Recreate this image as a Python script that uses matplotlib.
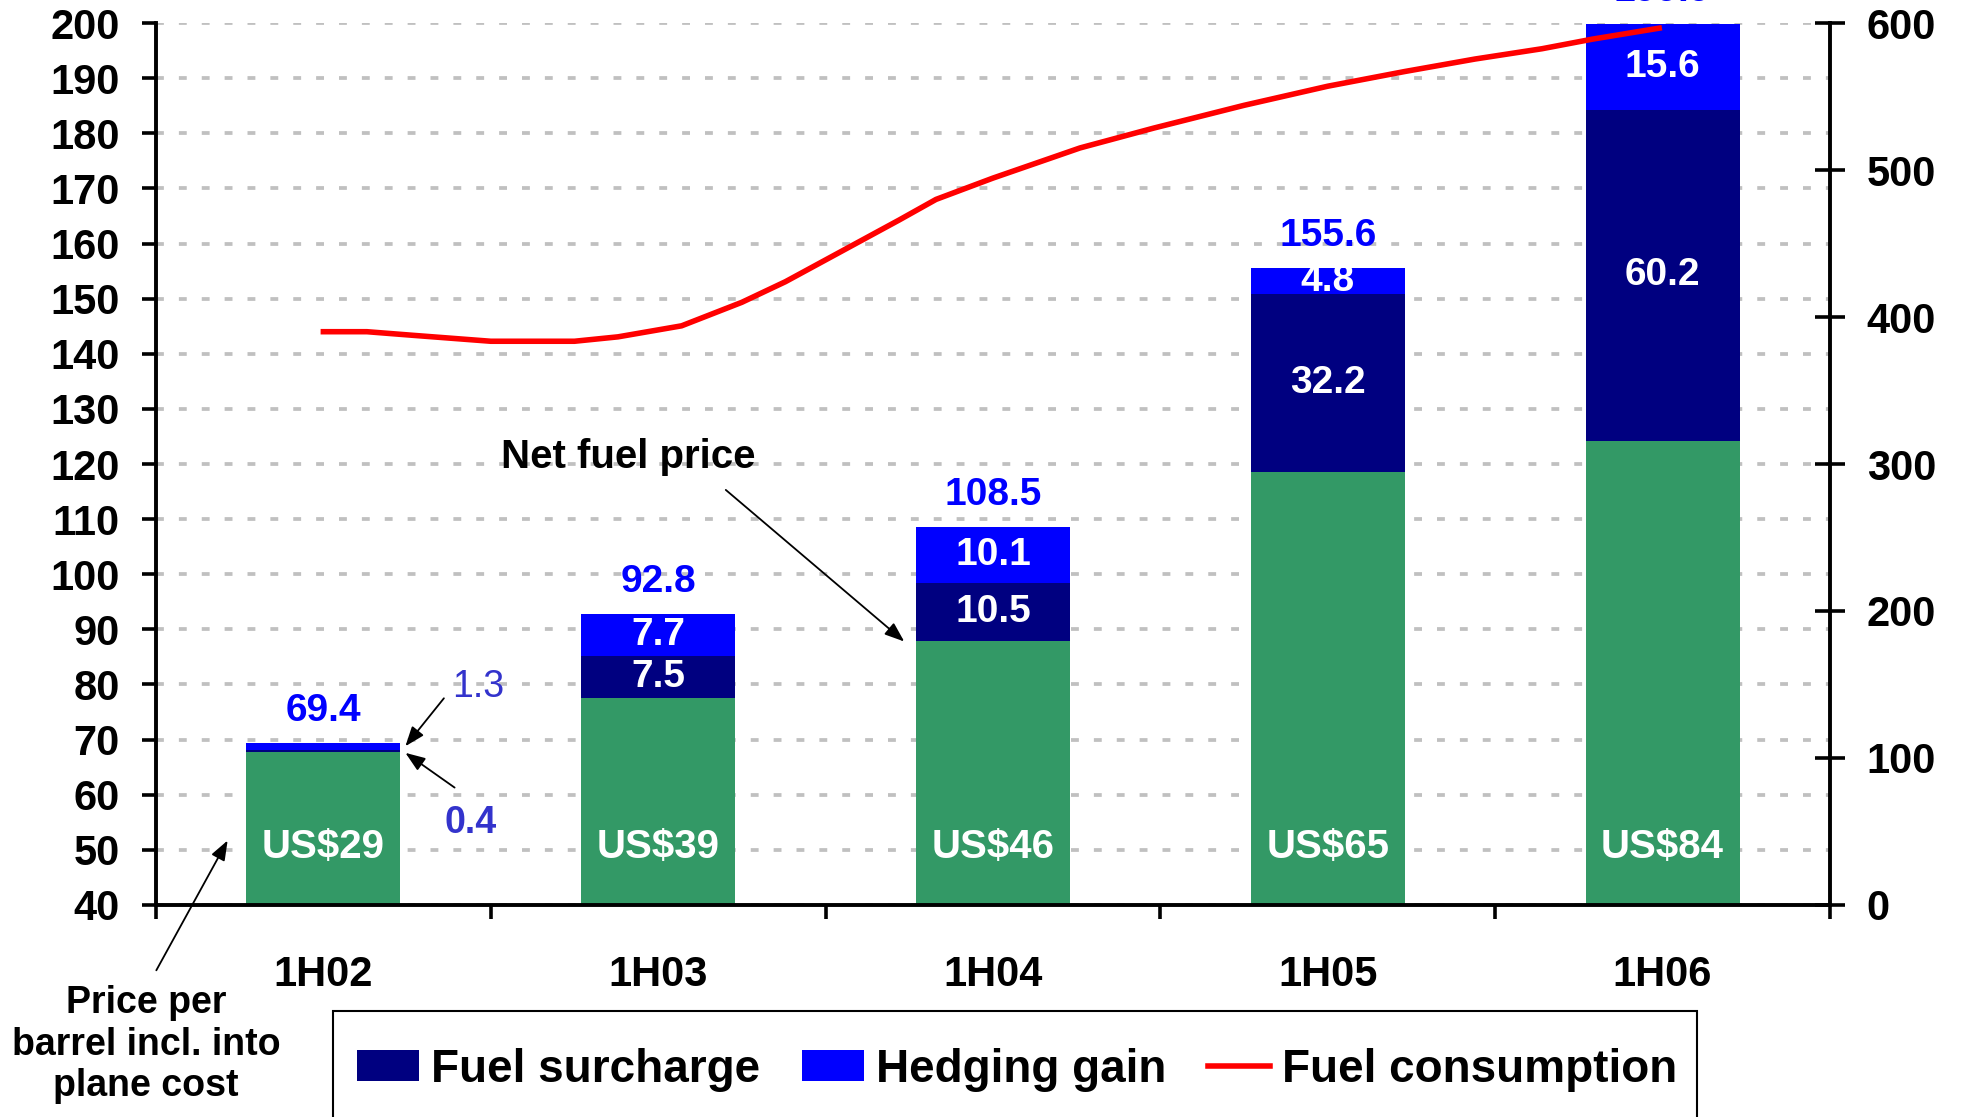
import matplotlib
matplotlib.use('Agg')
import matplotlib.pyplot as plt
from matplotlib.patches import Rectangle
import numpy as np

plt.rcParams['font.family'] = ['Liberation Sans', 'DejaVu Sans']
plt.rcParams['font.weight'] = 'bold'

# data
periods = ['1H02', '1H03', '1H04', '1H05', '1H06']
totals = [69.4, 92.8, 108.5, 155.6, 199.9]
surcharge = [0.4, 7.5, 10.5, 32.2, 60.2]
hedging = [1.3, 7.7, 10.1, 4.8, 15.6]
oil_price = [29, 39, 46, 65, 84]
# fuel consumption (right axis), time in half-year units from 1H02
cons_t = [0.00, 0.13, 0.27, 0.50, 0.75, 0.88, 1.07, 1.25, 1.38, 1.72, 1.83,
          2.00, 2.26, 2.48, 2.75, 3.00, 3.23, 3.44, 3.64, 3.79, 3.99]
cons_v = [390, 390, 387.5, 383.5, 383.5, 386.5, 394, 410, 424, 466, 480,
          494.5, 515, 528.5, 544, 557, 567, 575.5, 582.5, 589, 596.5]

GREEN = '#339966'
NAVY = '#000080'
BLUE = '#0000FF'
RED = '#FF0000'
NOTE = '#3333CC'

base = np.array(totals) - np.array(surcharge) - np.array(hedging)
x = np.arange(len(periods))
w = 0.46

fig = plt.figure(figsize=(19.67, 11.17), dpi=100)
ax = fig.add_axes([0.0793, 0.1898, 0.8510, 0.7896])

ax.bar(x, base, w, color=GREEN, zorder=2)
ax.bar(x, surcharge, w, bottom=base, color=NAVY, zorder=2, label='Fuel surcharge')
ax.bar(x, hedging, w, bottom=base + np.array(surcharge), color=BLUE, zorder=2,
       label='Hedging gain')

ax.set_xlim(-0.5, 4.5)
ax.set_ylim(40, 200)
ax.set_yticks(range(40, 201, 10))
ax.set_axisbelow(True)
ax.yaxis.grid(True, color='#C0C0C0', lw=2.7, ls=(0, (2.1, 4.0)))

for s in ['top', 'right']:
    ax.spines[s].set_visible(False)
for s in ['left', 'bottom']:
    ax.spines[s].set_linewidth(2.8)

ax.tick_params(axis='y', direction='out', length=10, width=2.6, labelsize=30, pad=16)
ax.set_xticks(np.arange(-0.5, 5, 1))
ax.set_xticklabels([])
ax.tick_params(axis='x', which='major', direction='out', length=10, width=2.6)
ax.set_xticks(x, minor=True)
ax.set_xticklabels(periods, minor=True)
ax.tick_params(axis='x', which='minor', length=0, pad=36, labelsize=30)

ax2 = ax.twinx()
ax2.plot(cons_t, cons_v, color=RED, lw=4, label='Fuel consumption', zorder=3)
ax2.set_ylim(0, 600)
ax2.set_yticks(range(0, 601, 100))
for s in ['left', 'top', 'bottom']:
    ax2.spines[s].set_visible(False)
ax2.spines['right'].set_linewidth(2.8)
ax2.tick_params(axis='y', direction='inout', length=21, width=2.6, labelsize=30, pad=16)

# labels
for i in range(len(x)):
    ax.annotate('%.1f' % totals[i], (x[i], totals[i]), xytext=(0, 16),
                textcoords='offset points', ha='center', va='baseline',
                color=BLUE, fontsize=28, annotation_clip=False)
    ax.text(x[i], 48.5, 'US$%d' % oil_price[i], ha='center', va='baseline',
            color='white', fontsize=29, zorder=4)
    bottoms = [base[i], base[i] + surcharge[i]]
    for h, b in zip([surcharge[i], hedging[i]], bottoms):
        if h >= 3:
            ax.text(x[i], b + h / 2, '%.1f' % h, ha='center', va='center',
                    color='white', fontsize=28, zorder=4)

arrow = dict(arrowstyle='-|>,head_length=0.4,head_width=0.15', color='black',
             lw=1.3, mutation_scale=30, shrinkA=0, shrinkB=0)

ax.text(0.462, 77.75, '1.3', ha='center', va='baseline', color=NOTE,
        fontsize=27, fontweight='normal')
ax.annotate('', xy=(0.245, 68.8), xytext=(0.36, 77.5), arrowprops=arrow)
ax.text(0.441, 53.0, '0.4', ha='center', va='baseline', color=NOTE, fontsize=27)
ax.annotate('', xy=(0.245, 67.6), xytext=(0.392, 61.3), arrowprops=arrow)

ax.text(0.91, 119.2, 'Net fuel price', ha='center', va='baseline', fontsize=29)
ax.annotate('', xy=(1.735, 87.8), xytext=(1.202, 115.3), arrowprops=arrow)

fig.text(0.0742, 0.0184, 'Price per\nbarrel incl. into\nplane cost', ha='center',
         va='baseline', multialignment='center', fontsize=27, linespacing=1.2)
ax.annotate('', xy=(-0.286, 51.7), xytext=(-0.499, 28.15), arrowprops=arrow,
            annotation_clip=False)

# legend, its box runs past the bottom edge as in the original
h1, l1 = ax.get_legend_handles_labels()
h2, l2 = ax2.get_legend_handles_labels()
fig.legend(h1 + h2, l1 + l2, loc='upper left', bbox_to_anchor=(0.1815, 0.062),
           ncol=3, fontsize=33, frameon=False, borderpad=0, borderaxespad=0,
           handlelength=1.35, handleheight=0.655, handletextpad=0.275,
           columnspacing=0.9)
fig.patches.append(Rectangle((0.1695, -0.05), 0.6932, 0.1452, transform=fig.transFigure,
                             fill=False, ec='black', lw=1.5))

fig.savefig('out.png', dpi=100)
